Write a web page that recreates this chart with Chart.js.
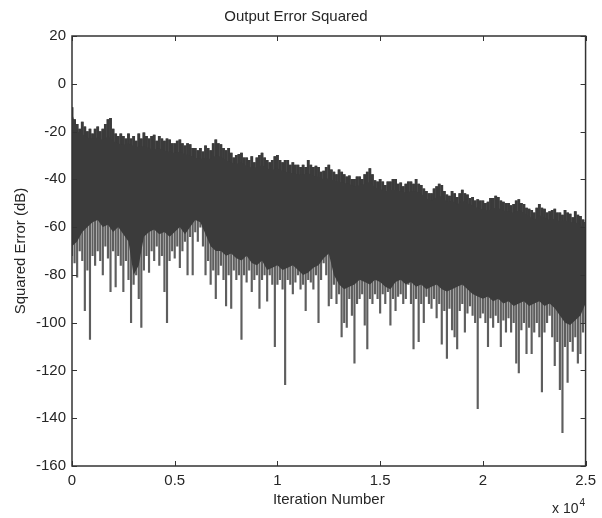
<!DOCTYPE html>
<html>
<head>
<meta charset="utf-8">
<script src="https://cdn.jsdelivr.net/npm/chart.js@4.4.0/dist/chart.umd.min.js"></script>
<style>
  html, body { margin: 0; padding: 0; background: #fff; }
</style>
</head>
<body>
<canvas id="errChart" width="602" height="518"></canvas>
<script>
/*---------------------------- data ----------------------------*/

// top of the solid dark band, one value every 250 iterations (dB)
var bandTop = [-12,-20,-21,-22.5,-23,-22.5,-23.5,-22,-24,-25,
  -25.5,-25,-26,-26.5,-26,-27,-27.5,-27,-28,-28.5,
  -29,-28.5,-29.5,-30,-31,-31.5,-31,-31.5,-30,-30.5,
  -32,-33,-33.5,-33,-34.5,-35,-35,-34,-35.5,-36,
  -35.5,-36.5,-37,-37.5,-38,-38,-37.5,-38.5,-39,-40,
  -39.5,-40.5,-41,-41.5,-42,-43,-42.5,-42,-41,-43.5,
  -44,-45,-44.5,-44.5,-45,-45.5,-45,-45,-46,-48,
  -49,-47.5,-47,-49.5,-49,-50.5,-49,-50,-51,-52,
  -52.5,-53,-52,-52,-53,-53.5,-54,-53,-54,-55.5,
  -57,-55,-56,-57,-56.5,-57.5,-57,-58,-58,-59,
  -61];

// bottom of the solid dark band, every 250 iterations (dB)
var bandFloor = [-68,-66,-62,-60,-58,-57,-60,-59,-62,-60,
  -63,-66,-80,-76,-64,-62,-61,-63,-62,-64,
  -62,-60,-63,-60,-57,-58,-63,-68,-70,-70,
  -72,-71,-73,-74,-72,-75,-76,-74,-78,-77,
  -76,-78,-77,-76,-78,-80,-79,-77,-76,-73,
  -71,-80,-84,-86,-85,-84,-82,-83,-84,-82,
  -83,-85,-86,-83,-82,-84,-83,-85,-84,-86,
  -85,-84,-86,-87,-86,-85,-84,-86,-88,-89,
  -90,-89,-91,-90,-92,-91,-93,-92,-91,-93,
  -92,-91,-93,-92,-94,-97,-100,-101,-99,-97,
  -92];

// highest excursion in each 125-iteration slot (dB)
var peakHigh = [-10,-15,-17,-19,-16,-18,-20,-19,-21,-19,
  -18,-20,-19,-17,-15,-14.5,-19,-21,-22,-21,
  -22,-23,-21,-23,-22,-24,-21,-23,-20.5,-22,
  -23,-22,-21.5,-24,-22,-23,-24,-23,-23.5,-25,
  -25,-24,-23.5,-25,-26,-25,-25.5,-27,-27,-28,
  -27,-28.5,-26,-27,-28,-25,-23.5,-25,-25.5,-27,
  -28,-27,-29,-31,-30,-29.5,-29,-31,-31,-32,
  -30.5,-33,-31,-30,-29,-31,-32,-33,-32,-30.5,
  -30,-32,-33,-32,-32,-34,-33,-34,-34,-35,
  -34,-35,-32,-34,-35,-34.5,-35,-37,-36.5,-35,
  -34,-36,-37,-38,-36,-37,-38,-39,-38.5,-40,
  -40,-39,-39,-40,-38,-37,-35.5,-38,-40.5,-41,
  -40,-41,-42.5,-41,-41,-40,-40,-42,-41.5,-43,
  -42,-41,-41,-42,-40,-42,-42.5,-44,-45,-46,
  -46,-44,-43,-42,-42.5,-45,-46.5,-47,-45,-46,
  -47.5,-46,-44.5,-46,-46.5,-48,-47.5,-49,-48.5,-49,
  -49,-50,-49.5,-48,-48,-47,-47.5,-49,-49.5,-50,
  -50,-51,-50.5,-49,-48.5,-50,-50.5,-52,-52.5,-53,
  -54,-52,-50.5,-52,-52.5,-54,-53.5,-53,-52.5,-54,
  -54,-55,-53,-54,-54.5,-56,-53.5,-55,-55.5,-57,
  -58];

// deepest excursion in each 125-iteration slot (dB)
var peakLow = [-72,-75,-81,-70,-74,-95,-78,-107,-72,-76,
  -70,-74,-80,-68,-73,-87,-70,-85,-72,-76,
  -87,-74,-82,-100,-84,-80,-90,-102,-78,-72,
  -79,-70,-74,-68,-76,-72,-87,-100,-74,-70,
  -73,-68,-77,-70,-66,-80,-64,-80,-62,-66,
  -60,-68,-80,-74,-84,-78,-90,-80,-76,-82,
  -93,-80,-94,-78,-82,-80,-107,-80,-83,-78,
  -87,-82,-80,-94,-82,-80,-91,-80,-84,-110,
  -84,-82,-86,-126,-82,-84,-88,-83,-80,-86,
  -84,-95,-82,-83,-86,-80,-100,-82,-75,-80,
  -93,-90,-84,-92,-88,-106,-100,-102,-90,-97,
  -117,-92,-90,-88,-101,-111,-90,-92,-88,-90,
  -96,-88,-92,-87,-101,-90,-95,-89,-88,-92,
  -90,-84,-92,-111,-90,-108,-92,-100,-89,-92,
  -94,-90,-98,-92,-109,-95,-115,-94,-103,-106,
  -111,-95,-92,-104,-96,-93,-97,-100,-136,-98,
  -96,-100,-110,-98,-102,-97,-100,-110,-99,-104,
  -98,-104,-100,-117,-121,-103,-100,-113,-102,-113,
  -104,-100,-106,-129,-104,-100,-97,-106,-118,-108,
  -128,-146,-110,-125,-108,-112,-106,-117,-113,-104,
  -100];

var bandStep = 250;
var peakStep = 125;

/*---------------------------- chart ----------------------------*/

var txtColor = '#262626';
var txtFont = { family: "'Liberation Sans', Arial, sans-serif", size: 15 };
var dark = '#3b3b3b';

var topData = bandTop.map(function (v, i) { return { x: i * bandStep, y: v }; });
var floorData = bandFloor.map(function (v, i) { return { x: i * bandStep, y: v }; });

// gray spike: full excursion of the slot (its middle is covered by the band)
var spikeData = peakLow.map(function (v, j) {
  return { x: j * peakStep, y: [v, peakHigh[j]] };
});
// dark hair on top: from inside the band up to the slot's high point
var hairData = peakHigh.map(function (v, j) {
  var k = Math.floor(j / 2);
  return { x: j * peakStep, y: [(bandTop[k] + bandFloor[k]) / 2, v] };
});

// matlab style box with inward ticks, plus the "x 10^4" exponent
var boxTicks = {
  id: 'boxTicks',
  afterDraw: function (chart) {
    var ctx = chart.ctx, area = chart.chartArea;
    var xs = chart.scales.x, ys = chart.scales.y;
    var len = 5;
    ctx.save();
    ctx.strokeStyle = '#333';
    ctx.lineWidth = 1;
    ctx.beginPath();
    xs.ticks.forEach(function (t) {
      var px = Math.round(xs.getPixelForValue(t.value)) + 0.5;
      ctx.moveTo(px, area.bottom); ctx.lineTo(px, area.bottom - len);
      ctx.moveTo(px, area.top); ctx.lineTo(px, area.top + len);
    });
    ys.ticks.forEach(function (t) {
      var py = Math.round(ys.getPixelForValue(t.value)) + 0.5;
      ctx.moveTo(area.left, py); ctx.lineTo(area.left + len, py);
      ctx.moveTo(area.right, py); ctx.lineTo(area.right - len, py);
    });
    ctx.stroke();
    ctx.lineWidth = 1.5;
    ctx.strokeRect(area.left, area.top, area.right - area.left, area.bottom - area.top);

    ctx.fillStyle = txtColor;
    ctx.textBaseline = 'alphabetic';
    ctx.textAlign = 'right';
    ctx.font = "14px 'Liberation Sans', Arial, sans-serif";
    ctx.fillText('x 10', area.right - 7, area.bottom + 47);
    ctx.textAlign = 'left';
    ctx.font = "10px 'Liberation Sans', Arial, sans-serif";
    ctx.fillText('4', area.right - 6, area.bottom + 40);
    ctx.restore();
  }
};

new Chart('errChart', {
  type: 'line',
  data: {
    datasets: [{
      data: topData,
      borderWidth: 0,
      backgroundColor: dark,
      fill: '+1',
      pointRadius: 0,
      tension: 0,
      order: 1
    },
    {
      data: floorData,
      borderWidth: 0,
      pointRadius: 0,
      fill: false,
      tension: 0,
      order: 1
    },
    {
      type: 'bar',
      data: spikeData,
      backgroundColor: '#5e5e5e',
      borderWidth: 0,
      barThickness: 1.5,
      order: 3
    },
    {
      type: 'bar',
      data: hairData,
      backgroundColor: dark,
      borderWidth: 0,
      barThickness: 2.2,
      grouped: false,
      order: 2
    }]
  },
  options: {
    responsive: false,
    animation: false,
    layout: { padding: { left: 0, right: 10, top: 0, bottom: 0 } },
    plugins: {
      legend: { display: false },
      tooltip: { enabled: false },
      title: {
        display: true,
        text: 'Output Error Squared',
        color: txtColor,
        font: { family: txtFont.family, size: 15, weight: 'normal' },
        padding: { top: 8, bottom: 10 }
      }
    },
    scales: {
      x: {
        type: 'linear',
        min: 0,
        max: 25000,
        offset: false,
        grid: { display: false, drawTicks: false },
        border: { display: false },
        ticks: {
          stepSize: 5000,
          padding: 6,
          maxRotation: 0,
          color: txtColor,
          font: txtFont,
          callback: function (v) { return String(v / 10000); }
        },
        title: {
          display: true,
          text: 'Iteration Number',
          color: txtColor,
          font: txtFont,
          padding: { top: 0, bottom: 9 }
        },
        afterFit: function (s) { s.height = 52; }
      },
      y: {
        min: -160,
        max: 20,
        grid: { display: false, drawTicks: false },
        border: { display: false },
        ticks: { stepSize: 20, padding: 6, color: txtColor, font: txtFont },
        title: {
          display: true,
          text: 'Squared Error (dB)',
          color: txtColor,
          font: txtFont,
          padding: { top: 12, bottom: 0 }
        },
        afterFit: function (s) { s.width = 72; }
      }
    }
  },
  plugins: [boxTicks]
});
</script>
</body>
</html>
